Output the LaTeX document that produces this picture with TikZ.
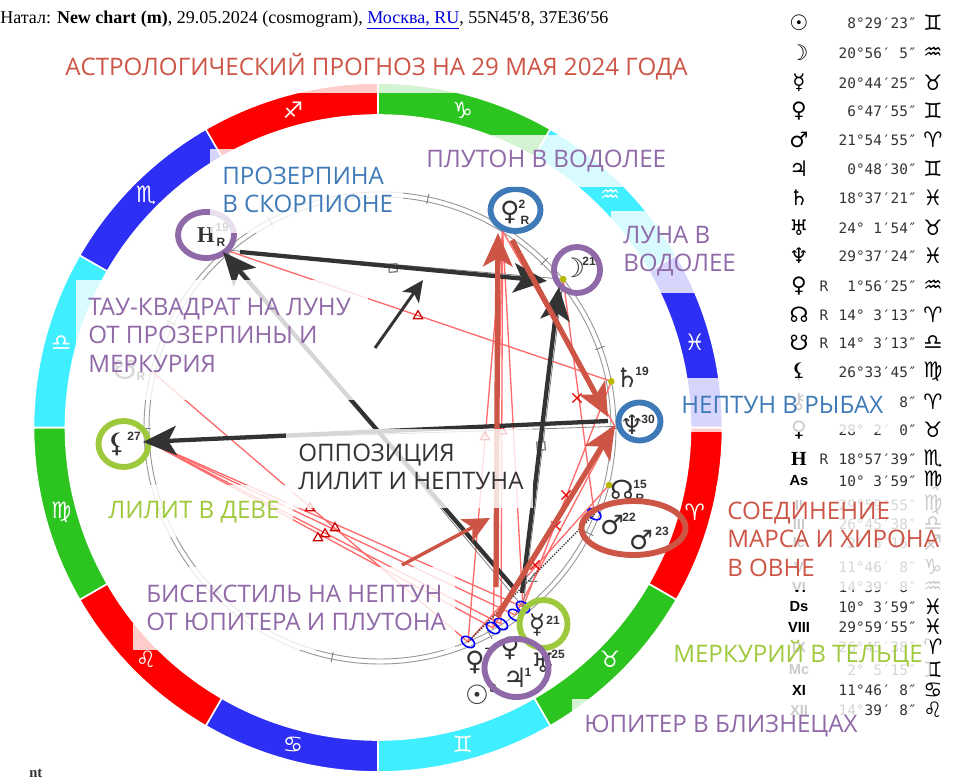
\documentclass[tikz,border=0pt]{standalone}
\usepackage{fontspec}
\setmainfont{Liberation Serif}
\newfontfamily\symfont{DejaVu Sans}
\newfontfamily\capfont{Open Sans}
\newfontfamily\tabfont{DejaVu Sans Mono}
\newfontfamily\bodyfont{Liberation Sans}
\usetikzlibrary{arrows.meta,shapes.geometric,shapes.misc}
\definecolor{signred}{HTML}{FF0000}
\definecolor{signgreen}{HTML}{2CC41E}
\definecolor{signcyan}{HTML}{40EFFF}
\definecolor{signblue}{HTML}{2D2FF5}
\definecolor{capred}{HTML}{CD5546}
\definecolor{capviolet}{HTML}{9069A8}
\definecolor{capblue}{HTML}{3F7AB8}
\definecolor{capgreen}{HTML}{9FC93C}
\definecolor{capink}{HTML}{333333}
\definecolor{aspred}{HTML}{FF6A6A}
\definecolor{ptolive}{HTML}{B8B800}
\tikzset{
  capt/.style={anchor=west,inner sep=0pt,align=left,font=\capfont\fontsize{18.1}{21.4}\selectfont},
  patch/.style={fill=white,fill opacity=.8},
  planet/.style={inner sep=0pt,text=capink,font=\symfont\bfseries\fontsize{20}{20}\selectfont},
  deg/.style={inner sep=0pt,text=capink,font=\bodyfont\bfseries\fontsize{9}{9}\selectfont},
  tabsym/.style={inner sep=0pt,text=black,font=\symfont\bfseries\fontsize{16}{16}\selectfont},
  tabnum/.style={inner sep=0pt,anchor=east,text=capink,font=\tabfont\fontsize{10.8}{11}\selectfont},
  tabhouse/.style={inner sep=0pt,text=black,font=\bodyfont\bfseries\fontsize{11}{11}\selectfont},
  asp/.style={draw=aspred,line width=1pt},
  grayasp/.style={draw=gray,line width=.6pt},
  dotpt/.style={circle,fill=ptolive,inner sep=0pt,minimum size=5pt},
  oval/.style={draw=blue,ellipse,line width=1.2pt,inner sep=0pt,minimum width=11pt,minimum height=7pt,rotate=-35},
  trimark/.style={regular polygon,regular polygon sides=3,draw=red!80!black,line width=.9pt,inner sep=0pt,minimum size=8pt},
  xmark/.style={cross out,draw=red!90!black,line width=.9pt,inner sep=0pt,minimum size=6pt},
  sqmark/.style={rectangle,draw=gray,line width=1pt,fill=white,inner sep=0pt,minimum size=6pt},
  ringed/.style={line width=4.4pt},
  bigblack/.style={draw=capink,line width=3.2pt,-{Stealth[length=25pt,width=22pt,inset=6pt]}},
  bigred/.style={draw=capred,line width=4pt,-{Stealth[length=25pt,width=22pt,inset=6pt]}},
  smallblack/.style={draw=capink,line width=2.2pt,-{Stealth[length=16pt,width=15pt,inset=4pt]}},
  smallred/.style={draw=capred,line width=2.6pt,-{Stealth[length=20pt,width=19pt,inset=5pt]}}
}
\begin{document}
\begin{tikzpicture}[x=.75pt,y=-.75pt]
  \useasboundingbox (0,0) rectangle (969,781);
  % Sign ring
  \begin{scope}[shift={(378,427.5)}]
    \foreach \a/\c/\g in {0/signred/♈,30/signgreen/♉,60/signcyan/♊,90/signblue/♋,120/signred/♌,150/signgreen/♍,
      180/signcyan/♎,210/signblue/♏,240/signred/♐,270/signgreen/♑,300/signcyan/♒,330/signblue/♓}{
      \fill[\c,draw=white,line width=1.2pt] (\a:344.5) arc[start angle=\a,end angle=\a+30,radius=344.5]
        -- (\a+30:312.5) arc[start angle=\a+30,end angle=\a,radius=312.5] -- cycle;
      \node[text=white,inner sep=0pt,font=\symfont\fontsize{17}{17}\selectfont] (sign\a) at (\a+15:328) {\g};
    }
  \end{scope}
  % Inner circle
  \begin{scope}[shift={(380,428)}]
    \draw[gray!80,line width=.7pt] (0,0) circle[radius=236];
    \draw[gray!80,line width=.7pt] (0,0) circle[radius=231];
    \foreach \c in {0,26.8,62,101.8,134.6,160,180,206.8,242,281.8,314.6,340}{
      \draw[gray,line width=.7pt] (\c:229) -- (\c:239);
    }
    \coordinate (lilith) at (176.5:231);
    \coordinate (proserp) at (229:236);
    \coordinate (pluto) at (301.9:232);
    \coordinate (moon) at (320.9:236);
    \coordinate (saturn) at (348.6:236);
    \coordinate (neptune) at (359.6:235);
    \coordinate (nodept) at (14:236);
    \coordinate (marspt) at (21.9:231);
    \coordinate (southpt) at (194:236);
  \end{scope}
  \coordinate (sunpt) at (468,642);
  \coordinate (juppt) at (493,628);
  \coordinate (selpt) at (501,624);
  \coordinate (urapt) at (515,615);
  \coordinate (merpt) at (523,607);
  % Thin aspects
  \foreach \p/\q in {proserp/saturn,southpt/sunpt,lilith/juppt,lilith/selpt,lilith/urapt,lilith/merpt,
    pluto/sunpt,pluto/juppt,pluto/selpt,pluto/merpt,moon/marspt,saturn/merpt,nodept/sunpt,neptune/juppt,neptune/urapt,pluto/neptune}{
    \draw[asp] (\p) -- (\q);
  }
  \foreach \p/\q in {lilith/neptune,proserp/moon,moon/merpt,proserp/merpt}{
    \draw[grayasp] (\p) -- (\q);
  }
  \draw[capink,line width=1pt,densely dotted] (sunpt) -- (marspt);
  % Aspect marks
  \foreach \n/\x/\y in {t1/418/316,t2/310/508,t3/325/534,t4/335/528,t5/318/538,t6/485/437,t7/502/431}{
    \node[trimark] (\n) at (\x,\y) {};
  }
  \foreach \n/\x/\y in {x1/577/398,x2/566/495,x3/556/526,x4/535/565}{
    \node[xmark] (\n) at (\x,\y) {};
  }
  \node[sqmark,rotate=5] (sq1) at (393,268) {};
  \node[sqmark,rotate=5] (sq2) at (541,446) {};
  \node[inner sep=0pt,text=gray,font=\symfont\fontsize{10}{10}\selectfont] (semi) at (533,578) {∠};
  % Aspect points
  \foreach \n/\p in {d1/moon,d2/saturn,d3/nodept}{
    \node[dotpt] (\n) at (\p) {};
  }
  \foreach \n/\p in {o1/sunpt,o2/juppt,o3/selpt,o4/urapt,o5/merpt,o6/marspt}{
    \node[oval] (\n) at (\p) {};
  }
  % Planets on the wheel
  \node[planet,font=\rmfamily\bfseries\fontsize{17}{17}\selectfont] (gproserp) at (206,235) {H};
  \node[deg] (dproserp) at (222,227) {19};
  \node[deg] (rproserp) at (221,242) {R};
  \node[planet] (gpluto) at (510,212) {♀};
  \node[deg] (dpluto) at (522,204) {2};
  \node[deg] (rpluto) at (525,220) {R};
  \node[planet] (gmoon) at (573,268) {☽};
  \node[deg] (dmoon) at (589,261) {21};
  \node[planet] (gsaturn) at (627,378) {♄};
  \node[deg] (dsaturn) at (642,371) {19};
  \node[planet] (gneptune) at (632,425) {♆};
  \node[deg] (dneptune) at (648,419) {30};
  \node[planet] (gnode) at (622,490) {☊};
  \node[deg] (dnode) at (640,484) {15};
  \node[deg] (rnode) at (640,498) {R};
  \node[planet] (glilith) at (117,444) {⚸};
  \node[deg] (dlilith) at (134,436) {27};
  \node[planet] (gsouth) at (125,370) {☋};
  \node[deg] (rsouth) at (141,376) {R};
  \node[planet] (gmars) at (612,525) {♂};
  \node[deg] (dmars) at (629,517) {22};
  \node[planet] (gchiron) at (641,540) {♂};
  \node[deg] (dchiron) at (662,531) {23};
  \node[planet] (gmerc) at (537,625) {☿};
  \node[deg] (dmerc) at (553,620) {21};
  \node[planet] (gvenus) at (475,662) {♀};
  \node[deg] (dvenus) at (488,652) {7};
  \node[planet] (gsun) at (477,695) {☉};
  \node[deg] (dsun) at (493,688) {8};
  \node[planet] (gjup) at (515,678) {♃};
  \node[deg] (djup) at (528,672) {1};
  \node[planet] (gsel) at (510,648) {♀};
  \node[planet] (gura) at (543,663) {♅};
  \node[deg] (dura) at (558,654) {25};
  % Positions table
  \foreach \ry/\gl/\rt/\dg/\si in {23/☉//8°29′23″/♊,53/☽//20°56′ 5″/♒,83/☿//20°44′25″/♉,111/♀//6°47′55″/♊,
    140/♂//21°54′55″/♈,169/♃//0°48′30″/♊,198/♄//18°37′21″/♓,228/♅//24° 1′54″/♉,256/♆//29°37′24″/♓,
    286/♀/R/1°56′25″/♒,315/☊/R/14° 3′13″/♈,343/☋/R/14° 3′13″/♎,372/⚸//26°33′45″/♍,
    402/⚷//8″/♈,430/♀//28° 2′ 0″/♉}{
    \node[tabsym] (tg\ry) at (799,\ry) {\gl};
    \node[tabnum,anchor=center] (tr\ry) at (824,\ry) {\rt};
    \node[tabnum] (td\ry) at (917,\ry) {\dg};
    \node[tabsym] (ts\ry) at (933,\ry) {\si};
  }
  \node[tabsym,font=\rmfamily\bfseries\fontsize{15}{15}\selectfont] (tg459) at (799,459) {H};
  \node[tabnum,anchor=center] (tr459) at (824,459) {R};
  \node[tabnum] (td459) at (917,459) {18°57′39″};
  \node[tabsym] (ts459) at (933,459) {♏};
  \foreach \ry/\gl/\dg/\si in {481/As/10° 3′59″/♍,505/II/29°59′55″/♍,524/III/26°45′38″/♎,543/Ic/2° 5′15″/♐,
    567/V/11°46′ 8″/♑,587/VI/14°39′ 8″/♒,607/Ds/10° 3′59″/♓,627/VIII/29°59′55″/♓,647/IX/26°45′38″/♈,
    670/Mc/2° 5′15″/♊,690/XI/11°46′ 8″/♋,710/XII/14°39′ 8″/♌}{
    \node[tabhouse] (tg\ry) at (799,\ry) {\gl};
    \node[tabnum] (td\ry) at (917,\ry) {\dg};
    \node[tabsym] (ts\ry) at (933,\ry) {\si};
  }
  % Highlight rings
  \draw[capviolet,ringed] (206,235) ellipse[x radius=28,y radius=23];
  \draw[capblue,ringed] (515.5,210) ellipse[x radius=25,y radius=21];
  \draw[capviolet,ringed] (577,270) circle[radius=23];
  \draw[capblue,ringed] (639.5,421.5) ellipse[x radius=21,y radius=19];
  \draw[capgreen,ringed] (123.5,444) ellipse[x radius=25,y radius=23];
  \draw[capred,ringed] (633.5,528) ellipse[x radius=52,y radius=27];
  \draw[capgreen,ringed] (543.5,624) circle[radius=24];
  \draw[capviolet,ringed] (516.5,668) ellipse[x radius=32,y radius=29];
  % Big arrows
  \coordinate (tauA) at (240,252);
  \coordinate (tauAend) at (547,281);
  \coordinate (tauB) at (513,587);
  \coordinate (tauBend) at (223,252);
  \coordinate (tauC) at (522,593);
  \coordinate (tauCend) at (559,287);
  \coordinate (oppS) at (608,421);
  \coordinate (oppE) at (143,442);
  \coordinate (bisA) at (496,587);
  \coordinate (bisAend) at (498,233);
  \coordinate (bisB) at (512,240);
  \coordinate (bisBend) at (608,417);
  \coordinate (bisC) at (497,617);
  \coordinate (bisCend) at (615,425);
  \coordinate (bisNote) at (402,565);
  \coordinate (bisNoteend) at (490,518);
  \coordinate (tauNote) at (375,348);
  \coordinate (tauNoteend) at (423,280);
  \draw[bigblack] (tauA) -- (tauAend);
  \draw[bigblack] (tauB) -- (tauBend);
  \draw[bigblack] (tauC) -- (tauCend);
  \draw[bigblack] (oppS) -- (oppE);
  \draw[bigred] (bisA) -- (bisAend);
  \draw[bigred] (bisB) -- (bisBend);
  \draw[bigred] (bisC) -- (bisCend);
  \draw[smallred] (bisNote) -- (bisNoteend);
  \draw[smallblack] (tauNote) -- (tauNoteend);
  % Text boxes veil what lies under them
  \fill[patch] (55,46) rectangle (696,93);
  \fill[patch] (415,135) rectangle (675,187);
  \fill[patch] (611,211) rectangle (746,293);
  \fill[patch] (672,378) rectangle (893,432);
  \fill[patch] (716,486) rectangle (950,590);
  \fill[patch] (665,632) rectangle (930,680);
  \fill[patch] (572,699) rectangle (865,748);
  \fill[patch] (133,567) rectangle (455,650);
  \fill[patch] (97,485) rectangle (293,537);
  \fill[patch] (286,429) rectangle (533,508);
  \fill[patch] (76,280) rectangle (368,400);
  \fill[patch] (210,149) rectangle (403,233);
  % Captions
  \node[capt,text=capred] (title) at (65,67) {АСТРОЛОГИЧЕСКИЙ ПРОГНОЗ НА 29 МАЯ 2024 ГОДА};
  \node[capt,text=capviolet] (lpluto) at (426,161) {ПЛУТОН В ВОДОЛЕЕ};
  \node[capt,text=capblue] (lproserp) at (222,190) {ПРОЗЕРПИНА\\В СКОРПИОНЕ};
  \node[capt,text=capviolet] (lmoon) at (623,251) {ЛУНА В\\ВОДОЛЕЕ};
  \node[capt,text=capviolet] (ltau) at (88,335) {ТАУ-КВАДРАТ НА ЛУНУ\\ОТ ПРОЗЕРПИНЫ И\\МЕРКУРИЯ};
  \node[capt,text=capblue] (lneptune) at (681,405) {НЕПТУН В РЫБАХ};
  \node[capt,text=capink] (lopp) at (298,467) {ОППОЗИЦИЯ\\ЛИЛИТ И НЕПТУНА};
  \node[capt,text=capgreen] (llilith) at (108,512) {ЛИЛИТ В ДЕВЕ};
  \node[capt,text=capred] (lmars) at (727,539) {СОЕДИНЕНИЕ\\МАРСА И ХИРОНА\\В ОВНЕ};
  \node[capt,text=capviolet] (lbis) at (146,608) {БИСЕКСТИЛЬ НА НЕПТУН\\ОТ ЮПИТЕРА И ПЛУТОНА};
  \node[capt,text=capgreen] (lmerc) at (673,654) {МЕРКУРИЙ В ТЕЛЬЦЕ};
  \node[capt,text=capviolet] (ljup) at (584,726) {ЮПИТЕР В БЛИЗНЕЦАХ};
  % Page header and footer
  \node[anchor=west,inner sep=0pt,font=\fontsize{13.5}{15}\selectfont] (header) at (0,20)
    {Натал: \textbf{New chart (m)}, 29.05.2024 (cosmogram), \textcolor{blue!85!black}{\underline{Москва, RU}}, 55N45′8, 37E36′56};
  \node[anchor=west,inner sep=0pt,text=capink,font=\bfseries\fontsize{11}{12}\selectfont] (footer) at (29,773) {nt};
\end{tikzpicture}
\end{document}
